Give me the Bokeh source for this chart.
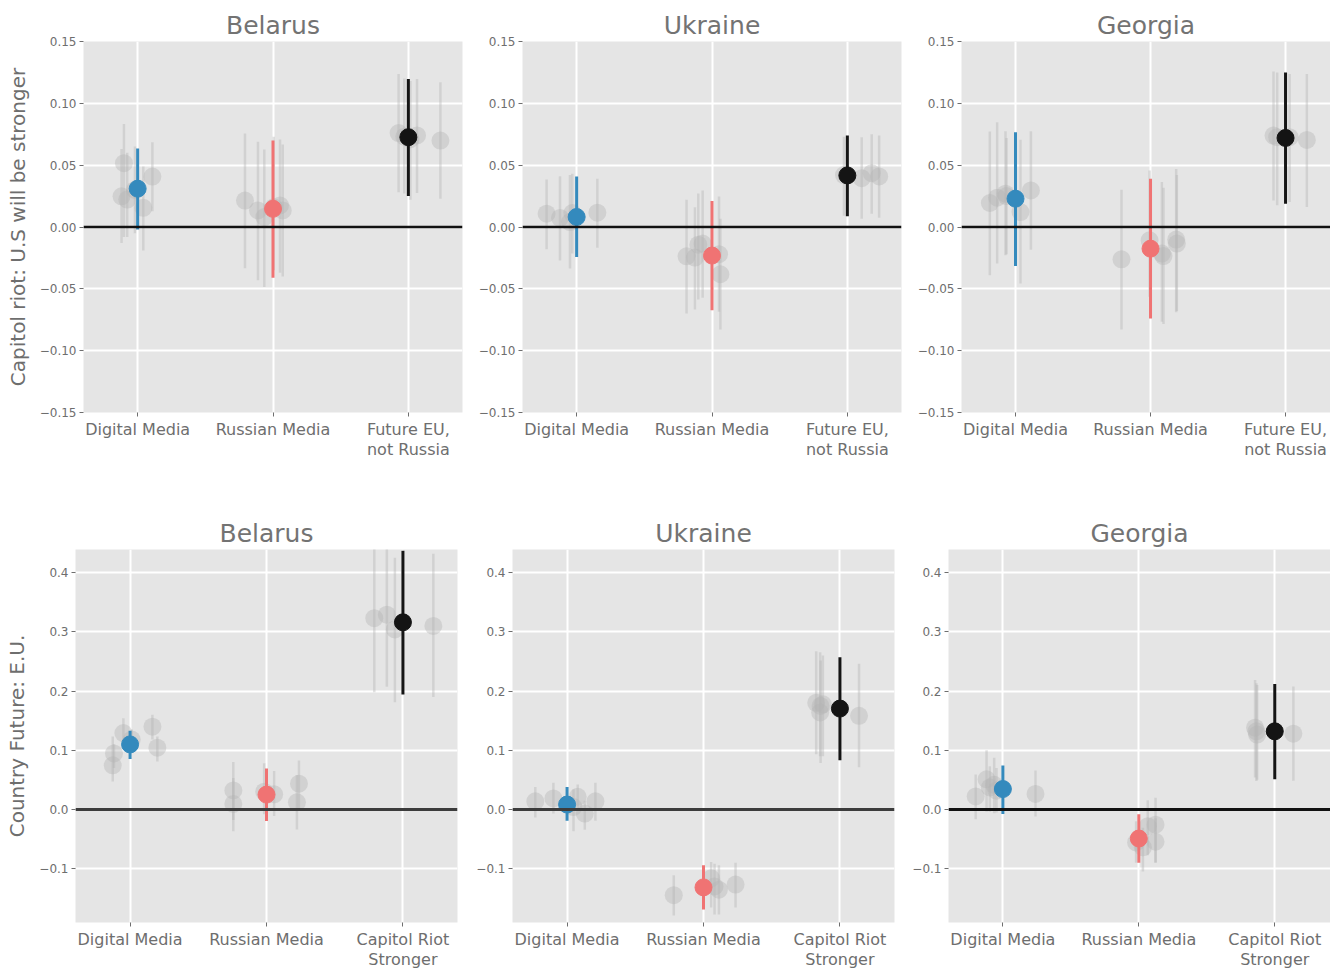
import numpy as np
from bokeh.plotting import figure
from bokeh.layouts import column, row
from bokeh.models import FixedTicker, Span, Range1d
from bokeh.embed import file_html
from bokeh.resources import INLINE

# ---------------- data ----------------
COUNTRIES = ["Belarus", "Ukraine", "Georgia"]
TOP_CATEGORIES = ["Digital Media", "Russian Media", "Future EU,\nnot Russia"]
BOTTOM_CATEGORIES = ["Digital Media", "Russian Media", "Capitol Riot\nStronger"]
TOP_YLABEL = "Capitol riot: U.S will be stronger"
BOTTOM_YLABEL = "Country Future: E.U."
TOP_YTICKS = [-0.15, -0.10, -0.05, 0.0, 0.05, 0.10, 0.15]
TOP_YTICK_LABELS = ["\u22120.15", "\u22120.10", "\u22120.05", "0.00", "0.05", "0.10", "0.15"]
BOTTOM_YTICKS = [-0.1, 0.0, 0.1, 0.2, 0.3, 0.4]
BOTTOM_YTICK_LABELS = ["\u22120.1", "0.0", "0.1", "0.2", "0.3", "0.4"]

# --- top row: Capitol riot: U.S will be stronger ---
top_belarus_est = [0.031, 0.0147, 0.0726]
top_belarus_lo = [-0.002, -0.041, 0.025]
top_belarus_hi = [0.0635, 0.070, 0.1196]
top_belarus_alt_cat = [0, 0, 0, 0, 0, 0, 1, 1, 1, 1, 1, 1, 2, 2, 2, 2, 2]
top_belarus_alt_jit = [-0.101, -0.119, -0.077, 0.042, 0.109, -0.02,
                       -0.207, -0.111, -0.064, 0.052, 0.072, 0.005,
                       -0.072, 0.064, 0.237, 0.015, -0.03]
top_belarus_alt_est = [0.0516, 0.0248, 0.0222, 0.0155, 0.0408, 0.030,
                       0.0214, 0.0134, 0.008, 0.0174, 0.0134, 0.016,
                       0.076, 0.074, 0.0699, 0.071, 0.073]
top_belarus_alt_lo = [-0.008, -0.013, -0.008, -0.019, 0.0128, -0.005,
                      -0.0334, -0.043, -0.0486, -0.037, -0.040, -0.035,
                      0.0282, 0.0274, 0.0228, 0.022, 0.027]
top_belarus_alt_hi = [0.0833, 0.063, 0.060, 0.049, 0.0686, 0.065,
                      0.0756, 0.069, 0.0627, 0.0708, 0.0668, 0.073,
                      0.1237, 0.1196, 0.117, 0.118, 0.12]

top_ukraine_est = [0.0081, -0.0231, 0.0417]
top_ukraine_lo = [-0.0242, -0.0673, 0.0086]
top_ukraine_hi = [0.0409, 0.021, 0.074]
top_ukraine_alt_cat = [0, 0, 0, 0, 0, 1, 1, 1, 1, 1, 1, 2, 2, 2, 2]
top_ukraine_alt_jit = [-0.222, -0.123, -0.049, -0.032, 0.153,
                       -0.188, -0.126, -0.101, -0.069, 0.052, 0.062,
                       0.106, 0.18, 0.235, -0.025]
top_ukraine_alt_est = [0.0108, 0.0073, 0.004, 0.0113, 0.0116,
                       -0.0237, -0.0247, -0.0143, -0.0134, -0.022, -0.0382,
                       0.0395, 0.0435, 0.0409, 0.042]
top_ukraine_alt_lo = [-0.018, -0.027, -0.0336, -0.0215, -0.0167,
                      -0.070, -0.0667, -0.0586, -0.0573, -0.0686, -0.0829,
                      0.0067, 0.0108, 0.0075, 0.009]
top_ukraine_alt_hi = [0.0385, 0.041, 0.042, 0.043, 0.039,
                      0.022, 0.016, 0.027, 0.0296, 0.0247, 0.0067,
                      0.0726, 0.075, 0.074, 0.073]

top_georgia_est = [0.0229, -0.0175, 0.072]
top_georgia_lo = [-0.0315, -0.074, 0.0188]
top_georgia_hi = [0.0767, 0.039, 0.125]
top_georgia_alt_cat = [0, 0, 0, 0, 0, 0, 1, 1, 1, 1, 1, 1, 2, 2, 2, 2]
top_georgia_alt_jit = [-0.19, -0.136, -0.074, -0.067, 0.037, 0.114,
                       -0.215, -0.007, 0.084, 0.096, 0.19, 0.195,
                       -0.089, -0.062, 0.03, 0.158]
top_georgia_alt_est = [0.0194, 0.0237, 0.0269, 0.025, 0.0121, 0.0296,
                       -0.0261, -0.0108, -0.0215, -0.0235, -0.0102, -0.0134,
                       0.0739, 0.0726, 0.0726, 0.0704]
top_georgia_alt_lo = [-0.039, -0.0296, -0.0229, -0.022, -0.0457, -0.0183,
                      -0.0829, -0.0565, -0.0767, -0.0785, -0.069, -0.068,
                      0.0215, 0.0175, 0.0202, 0.0161]
top_georgia_alt_hi = [0.0772, 0.0847, 0.0775, 0.072, 0.0705, 0.0775,
                      0.0301, 0.0457, 0.0363, 0.0317, 0.047, 0.042,
                      0.1258, 0.125, 0.1237, 0.1237]

# --- bottom row: Country Future: E.U. ---
bot_belarus_est = [0.1098, 0.025, 0.316]
bot_belarus_lo = [0.0853, -0.0196, 0.194]
bot_belarus_hi = [0.133, 0.069, 0.437]
bot_belarus_alt_cat = [0, 0, 0, 0, 0, 0, 1, 1, 1, 1, 1, 1, 2, 2, 2, 2]
bot_belarus_alt_jit = [-0.127, -0.118, -0.049, 0.012, 0.164, 0.2,
                       -0.243, -0.243, -0.017, 0.056, 0.238, 0.223,
                       -0.21, -0.118, -0.059, 0.223]
bot_belarus_alt_est = [0.0745, 0.0946, 0.129, 0.118, 0.1397, 0.1043,
                       0.032, 0.0092, 0.03, 0.0255, 0.0435, 0.012,
                       0.323, 0.329, 0.304, 0.310]
bot_belarus_alt_lo = [0.047, 0.07, 0.107, 0.1, 0.118, 0.081,
                      -0.018, -0.037, -0.008, -0.011, -0.0016, -0.034,
                      0.198, 0.207, 0.181, 0.19]
bot_belarus_alt_hi = [0.123, 0.11, 0.154, 0.135, 0.160, 0.123,
                      0.08, 0.053, 0.078, 0.065, 0.0826, 0.058,
                      0.45, 0.45, 0.425, 0.432]

bot_ukraine_est = [0.0082, -0.1317, 0.1703]
bot_ukraine_lo = [-0.019, -0.169, 0.083]
bot_ukraine_hi = [0.0377, -0.0945, 0.257]
bot_ukraine_alt_cat = [0, 0, 0, 0, 0, 0, 1, 1, 1, 1, 1, 2, 2, 2, 2, 2]
bot_ukraine_alt_jit = [-0.233, -0.1, 0.078, 0.047, 0.13, 0.208,
                       -0.218, 0.056, 0.081, 0.113, 0.235,
                       -0.174, -0.142, -0.145, -0.125, 0.14]
bot_ukraine_alt_est = [0.0137, 0.0186, 0.0213, 0.004, -0.0071, 0.0137,
                       -0.1448, -0.1164, -0.130, -0.1355, -0.127,
                       0.180, 0.1747, 0.1637, 0.1775, 0.158]
bot_ukraine_alt_lo = [-0.0137, -0.007, 0.001, -0.037, -0.0344, -0.019,
                      -0.179, -0.1656, -0.1776, -0.1776, -0.1656,
                      0.093, 0.0786, 0.0896, 0.09, 0.0714]
bot_ukraine_alt_hi = [0.038, 0.045, 0.042, 0.034, 0.0148, 0.045,
                      -0.111, -0.089, -0.0918, -0.0945, -0.090,
                      0.267, 0.2516, 0.2654, 0.26, 0.246]

bot_georgia_est = [0.0344, -0.0492, 0.1319]
bot_georgia_lo = [-0.0077, -0.0902, 0.051]
bot_georgia_hi = [0.0743, -0.0082, 0.212]
bot_georgia_alt_cat = [0, 0, 0, 0, 0, 0, 1, 1, 1, 1, 1, 2, 2, 2, 2]
bot_georgia_alt_jit = [-0.2, -0.12, -0.096, -0.064, -0.047, 0.24,
                       -0.02, 0.03, 0.066, 0.123, 0.123,
                       -0.145, -0.135, -0.13, 0.137]
bot_georgia_alt_est = [0.0219, 0.0508, 0.037, 0.0415, 0.0317, 0.0262,
                       -0.0557, -0.064, -0.0284, -0.0257, -0.0546,
                       0.138, 0.1319, 0.1264, 0.128]
bot_georgia_alt_lo = [-0.0164, -0.004, -0.004, -0.0066, -0.005, -0.012,
                      -0.09, -0.105, -0.0776, -0.0896, -0.09,
                      0.054, 0.048, 0.05, 0.0484]
bot_georgia_alt_hi = [0.059, 0.1, 0.0727, 0.0874, 0.07, 0.0656,
                      -0.02, -0.031, 0.0153, 0.0197, -0.015,
                      0.2187, 0.213, 0.21, 0.2077]

# ---------------- styling ----------------
MAIN_COLORS = ["#348ABD", "#F07373", "#141414"]
GREY = "#b4b4b4"
TEXT = "#6e6e6e"
FONT = "DejaVu Sans"


def make_panel(title, cats, yticks, ylabels, yrange, xr, est, lo, hi,
               acat, ajit, aest, alo, ahi, zero_color, zero_width,
               ylabel, w, h, bl, br, bt, bb):
    p = figure(width=w, height=h, x_range=Range1d(*xr), y_range=Range1d(*yrange),
               output_backend="svg", toolbar_location=None,
               min_border_left=bl, min_border_right=br,
               min_border_top=bt, min_border_bottom=bb,
               background_fill_color="#E5E5E5", border_fill_color="white",
               outline_line_color=None)
    p.title.text = title
    p.title.align = "center"
    p.title.text_font = FONT
    p.title.text_font_size = "25px"
    p.title.text_font_style = "normal"
    p.title.text_color = "#737373"
    p.title.standoff = 4

    xs = list(range(len(cats)))
    p.xaxis.ticker = FixedTicker(ticks=xs)
    p.xaxis.major_label_overrides = {i: c for i, c in zip(xs, cats)}
    p.yaxis.ticker = FixedTicker(ticks=yticks)
    p.yaxis.major_label_overrides = {t: l for t, l in zip(yticks, ylabels)}
    p.xgrid.ticker = FixedTicker(ticks=xs)
    p.ygrid.ticker = FixedTicker(ticks=yticks)
    for g in (p.xgrid, p.ygrid):
        g.grid_line_color = "white"
        g.grid_line_width = 2
    for ax in (p.xaxis, p.yaxis):
        ax.axis_line_color = None
        ax.major_tick_line_color = TEXT
        ax.major_tick_out = 4
        ax.major_tick_in = 0
        ax.minor_tick_line_color = None
        ax.major_label_text_color = TEXT
        ax.major_label_text_font = FONT
    p.xaxis.major_label_text_font_size = "16px"
    p.xaxis.major_label_text_line_height = 1.1
    p.xaxis.major_label_standoff = 3
    p.yaxis.major_label_text_font_size = "12px"
    p.yaxis.major_label_standoff = 3
    if ylabel:
        p.yaxis.axis_label = ylabel
        p.yaxis.axis_label_text_font = FONT
        p.yaxis.axis_label_text_font_size = "20px"
        p.yaxis.axis_label_text_font_style = "normal"
        p.yaxis.axis_label_text_color = TEXT
        p.yaxis.axis_label_standoff = 7

    gx = np.array(acat, dtype=float) + np.array(ajit, dtype=float)
    p.segment(x0=gx, y0=alo, x1=gx, y1=ahi, line_color=GREY, line_alpha=0.4, line_width=2.5)
    p.scatter(x=gx, y=aest, size=18, fill_color=GREY, fill_alpha=0.4, line_color=None)

    p.add_layout(Span(location=0, dimension="width", line_color=zero_color, line_width=zero_width))

    p.segment(x0=xs, y0=lo, x1=xs, y1=hi, line_color=MAIN_COLORS, line_width=3)
    p.scatter(x=xs, y=est, size=17, fill_color=MAIN_COLORS, line_color=MAIN_COLORS)
    return p


TOP_YR = (-0.15, 0.15)
BOT_YR = (-0.191, 0.439)

t1 = make_panel(COUNTRIES[0], TOP_CATEGORIES, TOP_YTICKS, TOP_YTICK_LABELS, TOP_YR, (-0.4, 2.4),
                top_belarus_est, top_belarus_lo, top_belarus_hi,
                top_belarus_alt_cat, top_belarus_alt_jit, top_belarus_alt_est,
                top_belarus_alt_lo, top_belarus_alt_hi, "#111111", 2.5,
                TOP_YLABEL, 472, 490, 83, 10, 41, 78)
t2 = make_panel(COUNTRIES[1], TOP_CATEGORIES, TOP_YTICKS, TOP_YTICK_LABELS, TOP_YR, (-0.4, 2.4),
                top_ukraine_est, top_ukraine_lo, top_ukraine_hi,
                top_ukraine_alt_cat, top_ukraine_alt_jit, top_ukraine_alt_est,
                top_ukraine_alt_lo, top_ukraine_alt_hi, "#111111", 2.5,
                None, 439, 490, 50, 10, 41, 78)
t3 = make_panel(COUNTRIES[2], TOP_CATEGORIES, TOP_YTICKS, TOP_YTICK_LABELS, TOP_YR, (-0.4, 2.333),
                top_georgia_est, top_georgia_lo, top_georgia_hi,
                top_georgia_alt_cat, top_georgia_alt_jit, top_georgia_alt_est,
                top_georgia_alt_lo, top_georgia_alt_hi, "#111111", 2.5,
                None, 419, 490, 50, 0, 41, 78)

b1 = make_panel(COUNTRIES[0], BOTTOM_CATEGORIES, BOTTOM_YTICKS, BOTTOM_YTICK_LABELS, BOT_YR, (-0.4, 2.4),
                bot_belarus_est, bot_belarus_lo, bot_belarus_hi,
                bot_belarus_alt_cat, bot_belarus_alt_jit, bot_belarus_alt_est,
                bot_belarus_alt_lo, bot_belarus_alt_hi, "#3c3c3c", 3,
                BOTTOM_YLABEL, 467, 482, 75, 10, 59, 40)
b2 = make_panel(COUNTRIES[1], BOTTOM_CATEGORIES, BOTTOM_YTICKS, BOTTOM_YTICK_LABELS, BOT_YR, (-0.4, 2.4),
                bot_ukraine_est, bot_ukraine_lo, bot_ukraine_hi,
                bot_ukraine_alt_cat, bot_ukraine_alt_jit, bot_ukraine_alt_est,
                bot_ukraine_alt_lo, bot_ukraine_alt_hi, "#3c3c3c", 3,
                None, 436, 482, 45, 9, 59, 40)
b3 = make_panel(COUNTRIES[2], BOTTOM_CATEGORIES, BOTTOM_YTICKS, BOTTOM_YTICK_LABELS, BOT_YR, (-0.4, 2.41),
                bot_georgia_est, bot_georgia_lo, bot_georgia_hi,
                bot_georgia_alt_cat, bot_georgia_alt_jit, bot_georgia_alt_est,
                bot_georgia_alt_lo, bot_georgia_alt_hi, "#111111", 3,
                None, 427, 482, 45, 0, 59, 40)

layout = column(row(t1, t2, t3, spacing=0), row(b1, b2, b3, spacing=0), spacing=0)

with open("out.html", "w") as f:
    f.write(file_html(layout, INLINE))
